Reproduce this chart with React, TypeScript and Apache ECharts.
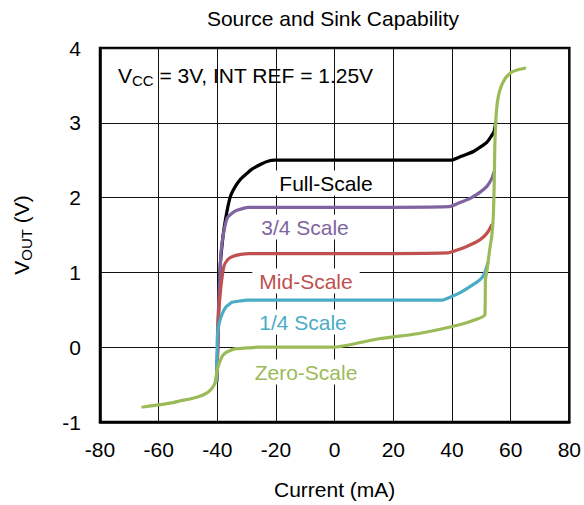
import React, { useEffect, useRef } from "react";
import * as echarts from "echarts";

const FONT = "'Liberation Sans', Arial, sans-serif";

const xTicks = { min: -80, max: 80, interval: 20 };
const yTicks = { min: -1, max: 4, interval: 1 };

const fullScale: number[][] = [
  [-40.2, -0.45], [-40, -0.2], [-39.6, 0.5], [-39, 1.1], [-38.3, 1.4], [-37.7, 1.59],
  [-36.7, 1.82], [-35.5, 2.02], [-34, 2.14], [-32, 2.25], [-30, 2.32], [-28.2, 2.38],
  [-25, 2.45], [-22.5, 2.49], [-20.5, 2.5], [0, 2.5], [20, 2.5], [39.5, 2.5], [43, 2.55],
  [47.5, 2.62], [51.9, 2.74], [54.3, 2.88], [54.9, 3.0],
];

const threeQuarter: number[][] = [
  [-40.2, -0.45], [-40, -0.2], [-39.5, 0.6], [-39, 1.05], [-38.7, 1.29], [-38, 1.5],
  [-36.7, 1.72], [-35, 1.79], [-33.3, 1.83], [-29.3, 1.87], [0, 1.87], [39.1, 1.88],
  [42.5, 1.93], [46.2, 1.99], [49.5, 2.07], [51.9, 2.15], [53.5, 2.25], [54.4, 2.35],
];

const midScale: number[][] = [
  [-40.2, -0.45], [-40, -0.2], [-39.6, 0.4], [-38.8, 0.8], [-37.7, 1.09], [-36.5, 1.17],
  [-35, 1.21], [-32, 1.24], [-29, 1.25], [0, 1.25], [38.4, 1.26], [41.8, 1.3],
  [45.2, 1.35], [48.5, 1.41], [50.9, 1.48], [52.4, 1.55], [53.5, 1.63],
];

const quarterScale: number[][] = [
  [-40.2, -0.45], [-40, 0.14], [-39.3, 0.33], [-38.4, 0.44], [-37, 0.54], [-35, 0.6],
  [-32, 0.62], [-30, 0.63], [0, 0.63], [36.7, 0.63], [39.5, 0.67], [42.8, 0.73],
  [45.7, 0.8], [48.5, 0.87], [50.2, 0.93], [51.2, 1.0], [52.2, 1.12],
];

const zeroScale: number[][] = [
  [-65.4, -0.8], [-60, -0.77], [-55, -0.74], [-52.9, -0.72], [-49, -0.69], [-46.2, -0.66],
  [-43.5, -0.61], [-41.8, -0.55], [-40.8, -0.48], [-40.4, -0.39], [-40, -0.3],
  [-39.4, -0.22], [-38.6, -0.14], [-37.7, -0.09], [-36, -0.05], [-33.7, -0.02],
  [-30, -0.01], [-25.9, 0], [-10, 0], [0, 0], [14.7, 0.11], [28.2, 0.18], [39.4, 0.27],
  [46, 0.34], [51.2, 0.43], [51.4, 0.9], [52, 1.05], [52.8, 1.29], [53.6, 1.5],
  [54.1, 1.75], [54.4, 2.2], [54.6, 2.7], [54.9, 3.0], [55.3, 3.22], [55.8, 3.35],
  [56.5, 3.46], [57.5, 3.55], [58.7, 3.62], [60.5, 3.68], [62.5, 3.71], [64.8, 3.73],
];

const seriesNames = ["Full-Scale", "3/4 Scale", "Mid-Scale", "1/4 Scale", "Zero-Scale"];
const seriesData = [fullScale, threeQuarter, midScale, quarterScale, zeroScale];
const seriesColors = ["#000000", "#8064A2", "#C0504D", "#4BACC6", "#9BBB59"];

export default function App() {
  const ref = useRef<HTMLDivElement>(null);
  useEffect(() => {
    if (!ref.current) return;
    const chart = echarts.init(ref.current, null, { renderer: "svg" });
    const labelPos = [
      [326, 183],
      [305, 227],
      [306, 281],
      [303, 322],
      [306, 372],
    ];
    chart.setOption({
      animation: false,
      backgroundColor: "#ffffff",
      title: {
        text: "Source and Sink Capability",
        left: 328,
        top: 3,
        textAlign: "center",
        textStyle: { fontFamily: FONT, fontSize: 21, fontWeight: "normal", color: "#000" },
      },
      grid: {
        left: 100,
        right: 11,
        top: 48,
        bottom: 78,
        show: true,
        borderColor: "#000",
        borderWidth: 2.5,
        backgroundColor: "transparent",
      },
      xAxis: {
        type: "value",
        min: xTicks.min,
        max: xTicks.max,
        interval: xTicks.interval,
        name: "Current (mA)",
        nameLocation: "middle",
        nameGap: 57,
        nameTextStyle: { fontFamily: FONT, fontSize: 21, color: "#000" },
        axisLine: { show: true, onZero: false, lineStyle: { color: "#000", width: 2.5 } },
        axisTick: { show: false },
        axisLabel: { fontFamily: FONT, fontSize: 21, color: "#000", margin: 17 },
        splitLine: { show: true, lineStyle: { color: "#111", width: 1 } },
      },
      yAxis: {
        type: "value",
        min: yTicks.min,
        max: yTicks.max,
        interval: yTicks.interval,
        name: "{a|V}{b|OUT}{a| (V)}",
        nameLocation: "middle",
        nameGap: 66,
        nameRotate: 90,
        nameTextStyle: {
          fontFamily: FONT,
          color: "#000",
          rich: {
            a: { fontFamily: FONT, fontSize: 21, lineHeight: 26, color: "#000" },
            b: { fontFamily: FONT, fontSize: 15, lineHeight: 12, verticalAlign: "bottom", color: "#000" },
          },
        },
        axisLine: { show: true, onZero: false, lineStyle: { color: "#000", width: 2.5 } },
        axisTick: { show: false },
        axisLabel: { fontFamily: FONT, fontSize: 21, color: "#000", margin: 19 },
        splitLine: { show: true, lineStyle: { color: "#111", width: 1 } },
      },
      series: seriesData.map((d, i) => ({
        name: seriesNames[i],
        type: "line",
        data: d,
        showSymbol: false,
        smooth: 0.15,
        z: 3 + i,
        lineStyle: { color: seriesColors[i], width: 3.2, cap: "round", join: "round" },
        itemStyle: { color: seriesColors[i] },
      })),
      graphic: [
        {
          type: "text",
          x: 118,
          y: 75,
          z: 10,
          style: {
            text: "{a|V}{b|CC}{a| = 3V, INT REF = 1.25V}",
            verticalAlign: "middle",
            align: "left",
            fill: "#000",
            rich: {
              a: { fontFamily: FONT, fontSize: 21, lineHeight: 26, fill: "#000" },
              b: { fontFamily: FONT, fontSize: 15, lineHeight: 12, verticalAlign: "bottom", fill: "#000" },
            },
          },
        },
        ...seriesNames.map((n, i) => ({
          type: "text",
          x: labelPos[i][0],
          y: labelPos[i][1],
          z: 10,
          style: {
            text: n,
            fill: seriesColors[i],
            fontFamily: FONT,
            fontSize: 21,
            align: "center",
            verticalAlign: "middle",
            backgroundColor: "#ffffff",
            padding: [2, 7],
          },
        })),
      ],
    });
    return () => chart.dispose();
  }, []);
  return (
    <div
      ref={ref}
      style={{ position: "fixed", left: 0, top: 0, width: 584, height: 505 }}
    />
  );
}
